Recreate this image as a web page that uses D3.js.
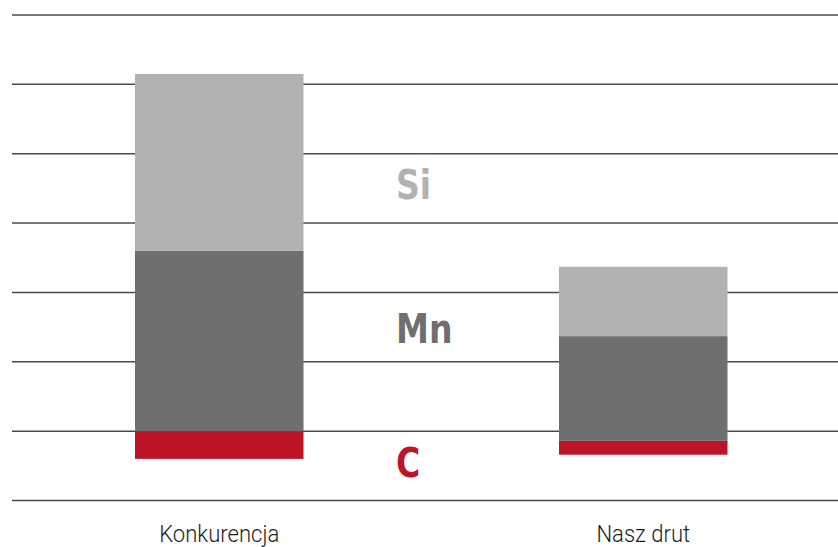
<!DOCTYPE html>
<html>
<head>
<meta charset="utf-8">
<script src="https://cdn.jsdelivr.net/npm/d3@7"></script>
<style>
  html, body { margin: 0; padding: 0; background: #fff; }
  svg { display: block; }
</style>
</head>
<body>
<div id="chart"></div>
<script>
// categories and stacked values (grid units); bars float on an offset base
const categories = ['Konkurencja', 'Nasz drut'];
const baseValues = [0.6, 0.66];
const cValues = [0.4, 0.2];
const mnValues = [2.6, 1.51];
const siValues = [2.55, 1.0];

const elements = ['C', 'Mn', 'Si'];
const elementColors = ['#be1428', '#6f6f6f', '#b2b2b2'];
const elementLabelY = [0.54, 2.48, 4.55];

const gridTicks = [0, 1, 2, 3, 4, 5, 6, 7];

const width = 838, height = 547;
const margin = { top: 15, right: 0, bottom: 46.5, left: 12 };

const svg = d3.select('#chart').append('svg')
  .attr('width', width)
  .attr('height', height);

const x = d3.scaleBand()
  .domain(categories)
  .range([24.5, 838])
  .paddingInner(0.6026)
  .paddingOuter(0.2606);

const y = d3.scaleLinear()
  .domain([0, 7])
  .range([height - margin.bottom, margin.top]);

// horizontal grid
svg.append('g')
  .selectAll('line')
  .data(gridTicks)
  .enter().append('line')
  .attr('x1', margin.left)
  .attr('x2', width)
  .attr('y1', d => y(d))
  .attr('y2', d => y(d))
  .attr('stroke', '#4a4a4a')
  .attr('stroke-width', 1.5);

// build stack
const rows = categories.map((c, i) => ({
  cat: c, base: baseValues[i], C: cValues[i], Mn: mnValues[i], Si: siValues[i]
}));

const series = d3.stack().keys(elements)(rows);

svg.append('g')
  .selectAll('g')
  .data(series)
  .enter().append('g')
  .attr('fill', (d, i) => elementColors[i])
  .selectAll('rect')
  .data(d => d)
  .enter().append('rect')
  .attr('x', d => x(d.data.cat))
  .attr('width', x.bandwidth())
  .attr('y', d => y(d.data.base + d[1]))
  .attr('height', d => y(d.data.base + d[0]) - y(d.data.base + d[1]));

// element labels in the middle column
svg.append('g')
  .selectAll('text')
  .data(elements)
  .enter().append('text')
  .attr('transform', (d, i) => 'translate(396,' + y(elementLabelY[i]) + ') scale(0.92,1)')
  .attr('dy', '0.36em')
  .attr('fill', (d, i) => elementColors[i])
  .attr('font-family', '"DejaVu Sans Condensed", "DejaVu Sans", sans-serif')
  .attr('font-stretch', 'condensed')
  .attr('font-weight', 'bold')
  .attr('font-size', 40)
  .text(d => d);

// category labels
svg.append('g')
  .selectAll('text')
  .data(categories)
  .enter().append('text')
  .attr('transform', d => 'translate(' + (x(d) + x.bandwidth() / 2) + ',542) scale(0.92,1)')
  .attr('text-anchor', 'middle')
  .attr('fill', '#1e1e1e')
  .attr('font-family', 'Roboto, "Open Sans", sans-serif')
  .attr('font-weight', 300)
  .attr('font-size', 24)
  .text(d => d);
</script>
</body>
</html>
